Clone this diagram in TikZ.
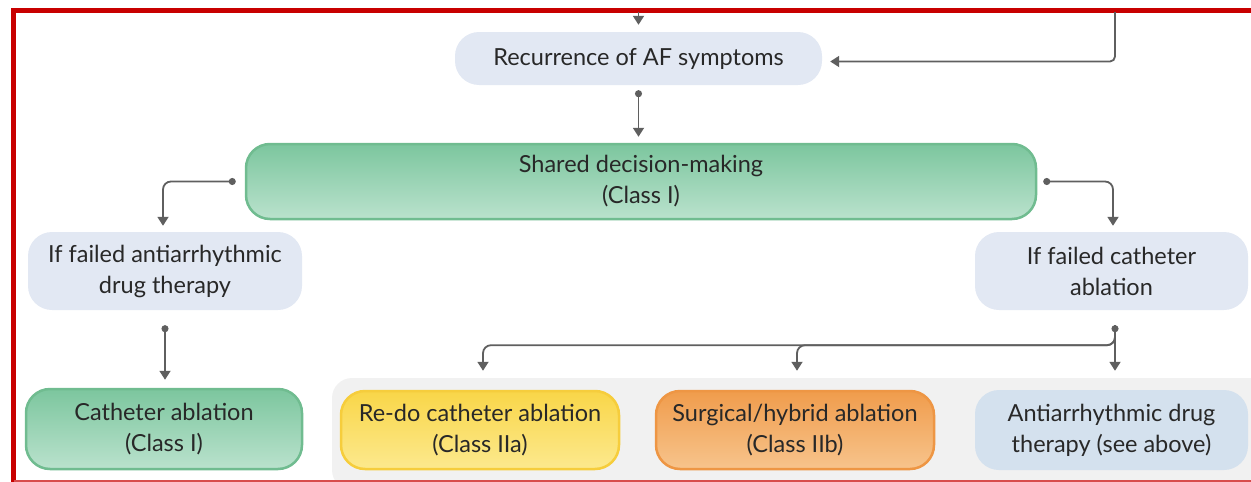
\documentclass[tikz,border=0pt]{standalone}
\usepackage{fontspec}
\setmainfont{Lato}
\usetikzlibrary{arrows.meta,calc}

\definecolor{frame}{RGB}{200,0,0}
\definecolor{linec}{RGB}{95,95,95}
\definecolor{txt}{RGB}{40,40,40}
\definecolor{paleblue}{RGB}{226,232,243}
\definecolor{steelblue}{RGB}{212,225,238}
\definecolor{panelgray}{RGB}{241,241,241}
\definecolor{greentop}{RGB}{124,198,158}
\definecolor{greenbot}{RGB}{186,226,205}
\definecolor{greenedge}{RGB}{112,188,144}
\definecolor{yeltop}{RGB}{249,214,72}
\definecolor{yelbot}{RGB}{252,233,142}
\definecolor{yeledge}{RGB}{246,205,60}
\definecolor{orgtop}{RGB}{240,156,76}
\definecolor{orgbot}{RGB}{247,196,140}
\definecolor{orgedge}{RGB}{238,150,68}

\tikzset{
  label/.style={align=center, text=txt, inner sep=0pt,
    font=\fontsize{23.5}{31}\selectfont},
  pale/.style={label, fill=paleblue, rounded corners=24pt},
  greenbox/.style={label, top color=greentop, bottom color=greenbot,
    draw=greenedge, line width=2.5pt, rounded corners=24pt},
  yelbox/.style={label, top color=yeltop, bottom color=yelbot,
    draw=yeledge, line width=2.5pt, rounded corners=24pt},
  orgbox/.style={label, top color=orgtop, bottom color=orgbot,
    draw=orgedge, line width=2.5pt, rounded corners=24pt},
  arr/.style={draw=linec, line width=1.8pt,
    -{Triangle[width=11pt,length=9pt]}},
  darr/.style={arr, {Circle[length=7pt]}-{Triangle[width=11pt,length=9pt]}},
}

\begin{document}
\begin{tikzpicture}[x=1pt,y=-1pt]
\useasboundingbox (0,0) rectangle (1251,482);

% grey panel behind the second-line options
\fill[panelgray, rounded corners=20pt] (332,378) rectangle (1275,490);

% outer frame
\draw[frame, line width=5pt] (13.5,482) -- (13.5,10) -- (1251,10);
\draw[frame!70, line width=1.5pt] (13.5,481) -- (1251,481);

% boxes
\node[pale, minimum width=367pt, minimum height=53pt] (rec) at (638.5,58.5)
  {Recurrence of AF symptoms};
\node[greenbox, minimum width=790pt, minimum height=75pt] (sdm) at (641,181.5)
  {Shared decision-making\\(Class I)};
\node[pale, minimum width=274pt, minimum height=78pt] (fa) at (165,271)
  {If failed antiarrhythmic\\drug therapy};
\node[pale, minimum width=273pt, minimum height=78pt] (fc) at (1111.5,271)
  {If failed catheter\\ablation};
\node[greenbox, minimum width=276pt, minimum height=80pt] (ca) at (164,429)
  {Catheter ablation\\(Class I)};
\node[yelbox, minimum width=278pt, minimum height=78pt] (redo) at (480,430)
  {Re-do catheter ablation\\(Class IIa)};
\node[orgbox, minimum width=278pt, minimum height=78pt] (surg) at (795,430)
  {Surgical/hybrid ablation\\(Class IIb)};
\node[label, fill=steelblue, rounded corners=24pt, minimum width=273pt,
  minimum height=80pt] (aad) at (1111.5,430)
  {Antiarrhythmic drug\\therapy (see above)};

% incoming connectors from above the frame
\coordinate (topin) at (638.5,12);
\coordinate (loopin) at (1115,12);
\draw[arr, shorten >=7pt] (topin) -- (rec.north);
\draw[arr, rounded corners=5pt, shorten >=8pt] (loopin) |- ($(rec.east)+(0,3)$);

% recurrence -> shared decision
\coordinate (d1) at ($(rec.south)+(0,5)$);
\draw[darr, shorten >=6pt] (d1) -- (sdm.north -| d1);

% shared decision -> both branches
\coordinate (d2) at ($(sdm.west)+(-9,0)$);
\coordinate (d3) at ($(sdm.east)+(6,0)$);
\draw[darr, rounded corners=8pt, shorten >=6pt] (d2) -| ($(fa.north)+(-2,0)$);
\draw[darr, rounded corners=8pt, shorten >=6pt] (d3) -| ($(fc.north)+(1.5,0)$);

% failed drug therapy -> catheter ablation
\coordinate (d4) at ($(fa.south)+(0,15)$);
\draw[darr, shorten >=8pt] (d4) -- (ca.north -| d4);

% failed ablation -> three options
\coordinate (d5) at ($(fc.south)+(3.5,15)$);
\coordinate (bus) at ($(d5)+(0,20)$);
\draw[darr, shorten >=19pt] (d5) -- (aad.north -| d5);
\draw[arr, rounded corners=8pt, shorten >=19pt] (d5) -- (bus) -| ($(surg.north)+(2,0)$);
\draw[arr, rounded corners=8pt, shorten >=19pt] (d5) -- (bus) -| ($(redo.north)+(3,0)$);
\end{tikzpicture}
\end{document}
